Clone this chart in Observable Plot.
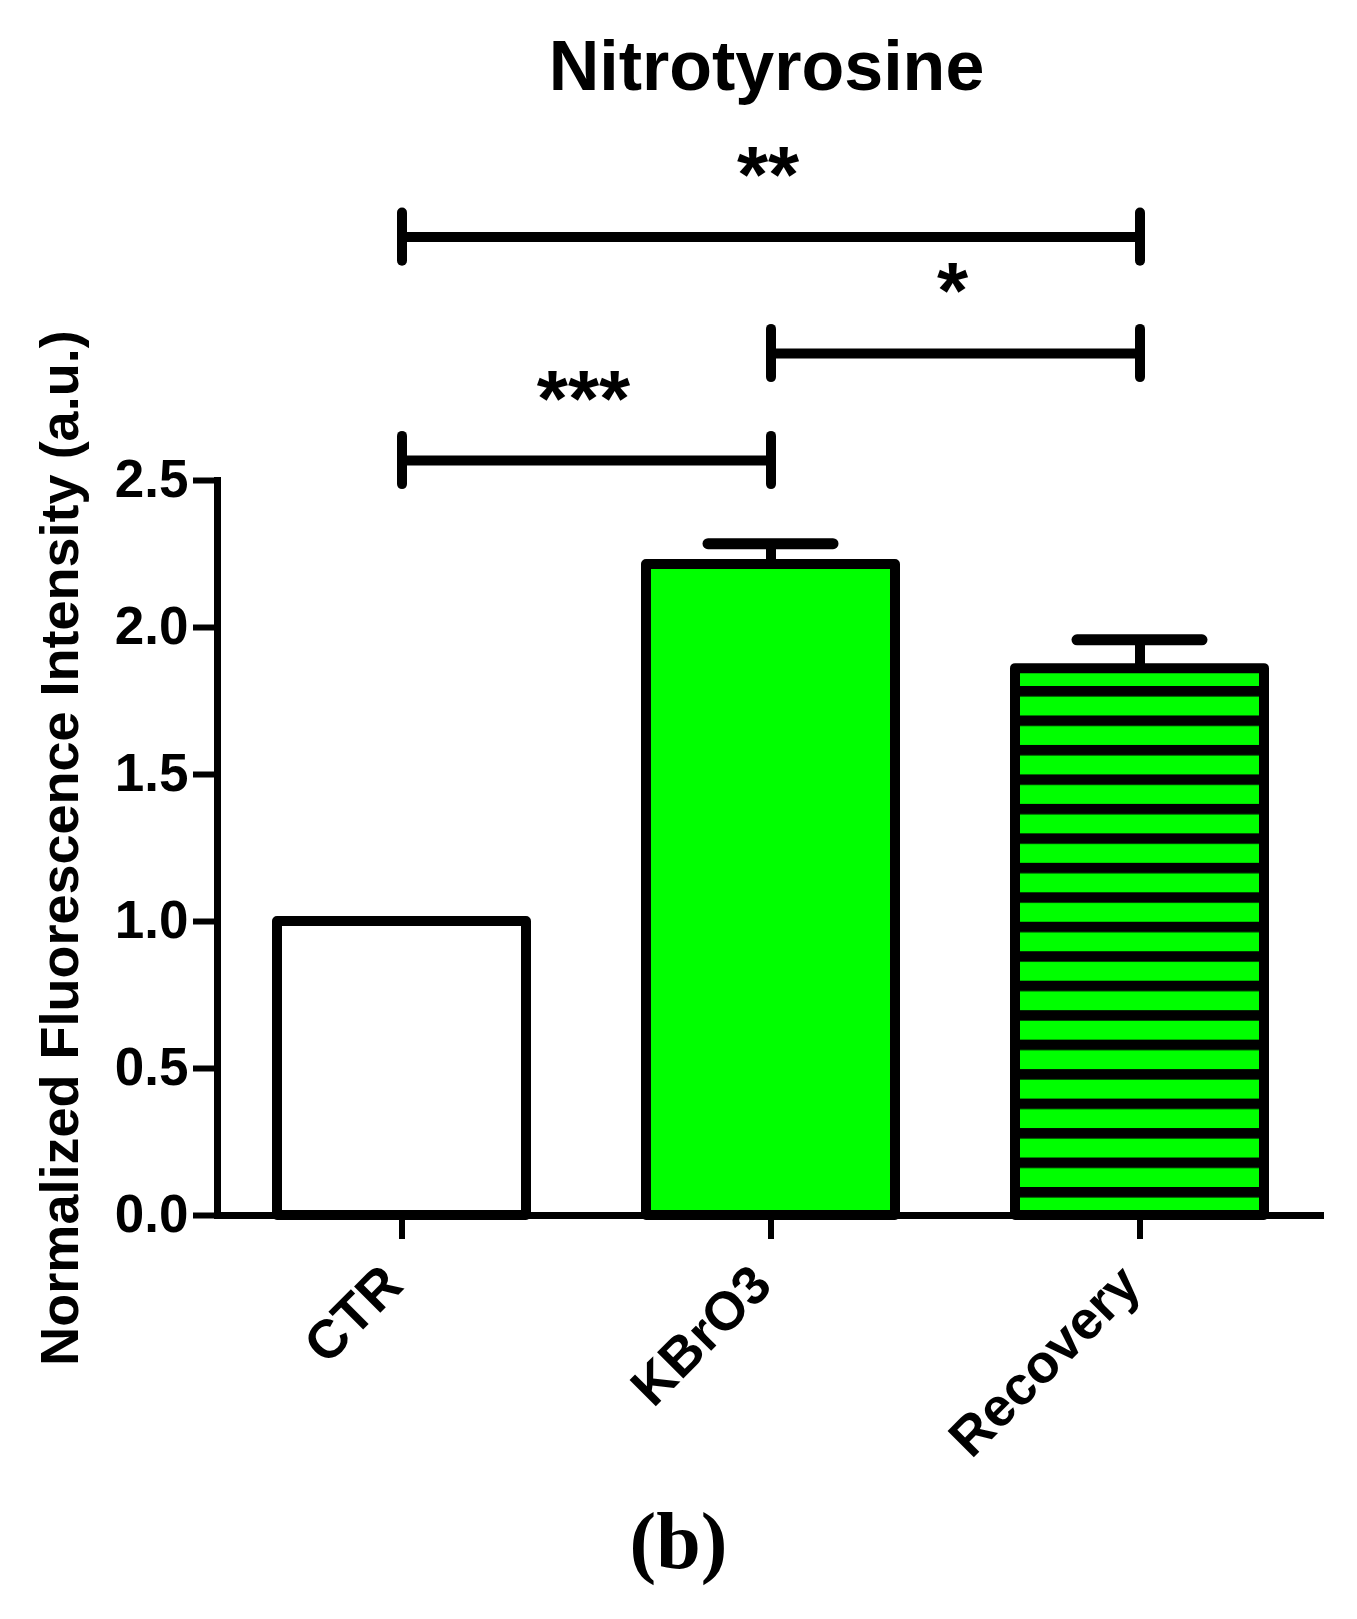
<!DOCTYPE html>
<html><head><meta charset="utf-8">
<script src="https://cdn.jsdelivr.net/npm/d3@7"></script>
<script src="https://cdn.jsdelivr.net/npm/@observablehq/plot@0.6"></script>
<style>
html,body{margin:0;padding:0;background:#fff;}
#page{position:relative;width:1357px;height:1619px;overflow:hidden;background:#fff;}
#title{position:absolute;left:213px;width:1107px;top:31px;text-align:center;font:bold 70px/1 "Liberation Sans",Arial,sans-serif;color:#000;}
#chart{position:absolute;left:0;top:120px;}
#caption{position:absolute;left:0;width:1357px;top:1501px;text-align:center;font:bold 80px/1 "Liberation Serif","Times New Roman",serif;color:#000;}
</style></head>
<body><div id="page"><div id="title">Nitrotyrosine</div><div id="chart"></div><div id="caption">(b)</div></div>
<script>
// ---- data ----
const categories = ["CTR", "KBrO3", "Recovery"];
const means = [1.0, 2.214, 1.860];
const sems = [0, 0.071, 0.098];
const yTicks = [0, 0.5, 1.0, 1.5, 2.0, 2.5];
const yLabel = "Normalized Fluorescence Intensity (a.u.)";
const compFrom = ["CTR", "KBrO3", "CTR"];
const compTo = ["KBrO3", "Recovery", "Recovery"];
const compLevel = [2.568, 2.932, 3.328];
const compStars = ["***", "*", "**"];

// ---- styles ----
const green = "#00ff00";
const barFills = ["#ffffff", green, "url(#stripes)"];
const stripePeriod = 29.47, stripeBlack = 10.5;
const W = 1357, H = 1360;
const mL = 217, mR = 33, mT = 360, mB = 265;
const xOpts = {type: "band", domain: categories, paddingInner: 0.326, paddingOuter: 0.163};

const data = categories.map((c, i) => ({cat: c, mean: means[i], sem: sems[i]}));
const errData = data.filter(d => d.sem > 0);
const comps = compFrom.map((f, i) => ({from: f, to: compTo[i], level: compLevel[i], stars: compStars[i]}));
const ends = comps.flatMap(c => [{x: c.from, level: c.level}, {x: c.to, level: c.level}]);
const tickHalf = 0.082;

const xs = Plot.scale({x: {...xOpts, range: [mL, W - mR]}});
const starMarks = comps.map(c => Plot.text([c], {
  x: "from", y: "level", text: "stars",
  dx: (xs.apply(c.to) - xs.apply(c.from)) / 2 - 3, dy: -35,
  lineAnchor: "bottom", textAnchor: "middle", fontSize: 80, fill: "#000"
}));

const plot = Plot.plot({
  width: W, height: H,
  marginLeft: mL, marginRight: mR, marginTop: mT, marginBottom: mB,
  x: xOpts,
  y: {domain: [0, 2.5]},
  color: {domain: categories, range: barFills},
  style: {fontFamily: "'Liberation Sans', Arial, sans-serif", fontWeight: "bold", color: "#000", background: "transparent", overflow: "visible"},
  marks: [
    Plot.barY(data, {x: "cat", y: "mean", fill: "cat", stroke: "#000", strokeWidth: 10, strokeLinejoin: "round"}),
    Plot.ruleX(errData, {x: "cat", y1: "mean", y2: d => d.mean + d.sem, stroke: "#000", strokeWidth: 10}),
    Plot.tickY(errData, {x: "cat", y: d => d.mean + d.sem, stroke: "#000", strokeWidth: 11, strokeLinecap: "round", insetLeft: 62, insetRight: 62}),
    Plot.frame({anchor: "left", stroke: "#000", strokeWidth: 7}),
    Plot.ruleY([0], {stroke: "#000", strokeWidth: 7}),
    Plot.axisY(yTicks, {tickSize: 24, tickPadding: 5, tickFormat: d3.format(".1f"), fontSize: 53, strokeWidth: 6, label: null}),
    Plot.axisX({tickSize: 24, strokeWidth: 6, tickFormat: () => "", label: null}),
    Plot.text(categories, {x: d => d, frameAnchor: "bottom", text: d => d, rotate: -45, textAnchor: "end", lineAnchor: "middle", dx: -9, dy: 60, fontSize: 54, fill: "#000"}),
    Plot.text([yLabel], {frameAnchor: "left", y: d3.mean(d3.extent(yTicks)), text: d => d, rotate: -90, textAnchor: "middle", lineAnchor: "middle", dx: -157, fontSize: 54, fill: "#000"}),
    Plot.link(comps, {x1: "from", x2: "to", y1: "level", y2: "level", stroke: "#000", strokeWidth: 10}),
    Plot.ruleX(ends, {x: "x", y1: d => d.level - tickHalf, y2: d => d.level + tickHalf, stroke: "#000", strokeWidth: 10, strokeLinecap: "round"}),
    ...starMarks
  ]
});

// striped pattern for the Recovery bar
const y0 = plot.scale("y").apply(0);
const defs = d3.select(plot).insert("defs", ":first-child");
const pat = defs.append("pattern").attr("id", "stripes").attr("patternUnits", "userSpaceOnUse")
  .attr("x", 0).attr("y", y0 - 28).attr("width", 20).attr("height", stripePeriod);
pat.append("rect").attr("width", 20).attr("height", stripePeriod).attr("fill", green);
pat.append("rect").attr("width", 20).attr("height", stripeBlack).attr("fill", "#000");

document.getElementById("chart").appendChild(plot);
</script>
</body></html>
